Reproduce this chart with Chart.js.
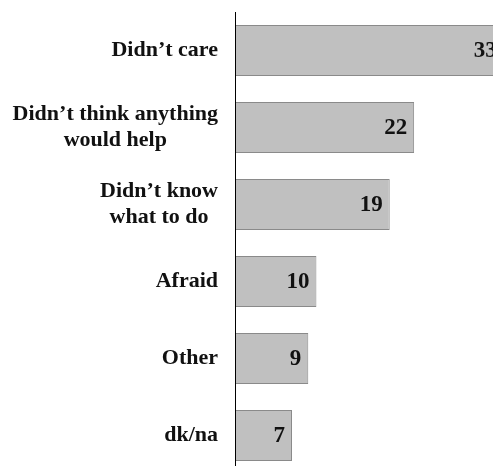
<!DOCTYPE html>
<html>
<head>
<meta charset="utf-8">
<script src="https://cdn.jsdelivr.net/npm/chart.js@4"></script>
<style>
  html, body { margin: 0; padding: 0; background: #fff; overflow: hidden; }
  #wrap { width: 520px; height: 476px; }
</style>
</head>
<body>
<div id="wrap"><canvas id="chBar"></canvas></div>
<script>
// reasons for not reporting
var categories = [
    "Didn\u2019t care",
    ["Didn\u2019t think anything", "would help"],
    ["Didn\u2019t know", "what to do"],
    "Afraid",
    "Other",
    "dk/na"
];
var values = [33, 22, 19, 10, 9, 7];

var fontFamily = "'Liberation Serif', 'DejaVu Serif', serif";

// value inside end of each bar
var valueLabels = {
    id: 'valueLabels',
    afterDatasetsDraw: function(chart) {
        var ctx = chart.ctx;
        var meta = chart.getDatasetMeta(0);
        ctx.save();
        ctx.font = "bold 23px " + fontFamily;
        ctx.fillStyle = "#111";
        ctx.textAlign = "right";
        ctx.textBaseline = "middle";
        meta.data.forEach(function(bar, i) {
            ctx.fillText(values[i], bar.x - 7, bar.y + 1);
        });
        ctx.restore();
    }
};

// category labels: block right aligned to the axis, lines centred in the block
var categoryLabels = {
    id: 'categoryLabels',
    afterDraw: function(chart) {
        var ctx = chart.ctx;
        var yScale = chart.scales.y;
        var right = yScale.right - 17;
        var lineH = 26;
        ctx.save();
        ctx.font = "bold 22px " + fontFamily;
        ctx.fillStyle = "#111";
        ctx.textAlign = "center";
        ctx.textBaseline = "middle";
        categories.forEach(function(label, i) {
            var lines = Array.isArray(label) ? label : [label];
            var w = 0;
            lines.forEach(function(l) { w = Math.max(w, ctx.measureText(l).width); });
            var cx = right - w / 2;
            var y0 = yScale.getPixelForTick(i) - (lines.length - 1) * lineH / 2;
            lines.forEach(function(l, j) {
                ctx.fillText(l, cx, y0 + j * lineH);
            });
        });
        ctx.restore();
    }
};

var chBar = document.getElementById("chBar");
new Chart(chBar, {
    type: 'bar',
    data: {
        labels: categories,
        datasets: [{
            data: values,
            backgroundColor: '#c0c0c0',
            borderColor: '#8a8a8a',
            borderWidth: 1,
            categoryPercentage: 0.66,
            barPercentage: 1
        }]
    },
    options: {
        indexAxis: 'y',
        responsive: true,
        maintainAspectRatio: false,
        animation: false,
        layout: { padding: { top: 12, bottom: 2, left: 0, right: 0 } },
        plugins: {
            legend: { display: false },
            tooltip: { enabled: false }
        },
        scales: {
            x: {
                display: false,
                min: 0,
                max: 35
            },
            y: {
                grid: { display: false, drawTicks: false },
                border: { display: true, color: '#000', width: 1, z: 1 },
                ticks: { display: false },
                afterFit: function(scale) {
                    scale.width = 235;
                    scale.paddingTop = 0;
                    scale.paddingBottom = 0;
                }
            }
        }
    },
    plugins: [valueLabels, categoryLabels]
});
</script>
</body>
</html>
